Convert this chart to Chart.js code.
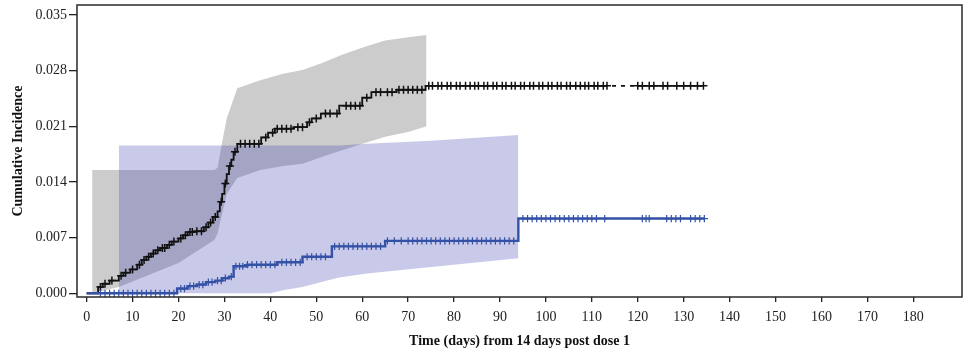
<!DOCTYPE html>
<html>
<head>
<meta charset="utf-8">
<script src="https://cdn.jsdelivr.net/npm/chart.js@4.4.1/dist/chart.umd.min.js"></script>
<style>
html,body{margin:0;padding:0;background:#fff;}
#wrap{width:963px;height:356px;}
</style>
</head>
<body>
<div id="wrap"><canvas id="c" width="963" height="356"></canvas></div>
<script>
// ---- data ----
const xTicks = [0,10,20,30,40,50,60,70,80,90,100,110,120,130,140,150,160,170,180];
const yTicks = [0,0.007,0.014,0.021,0.028,0.035];
const xTitle = 'Time (days) from 14 days post dose 1';
const yTitle = 'Cumulative Incidence';

// black group: Kaplan-Meier style cumulative incidence steps
const blackStepDays   = [0,2.5,3.5,5,7,8,9.5,11,12,13,14,15,16,17.5,18.5,20,21,22,23.5,25.5,26.5,27.5,28.5,29,29.5,30,30.5,31,31.5,32,32.8,38,39.5,41,45,48,49,51,55,60,62,67.5,73.8];
const blackStepValues = [0,0.0008,0.0012,0.0016,0.0022,0.0026,0.0030,0.0036,0.0042,0.0046,0.0050,0.0054,0.0057,0.0061,0.0065,0.0069,0.0073,0.0077,0.0078,0.0083,0.0089,0.0096,0.0103,0.0115,0.0125,0.0138,0.0150,0.0160,0.0168,0.0178,0.0188,0.0196,0.0202,0.0207,0.0209,0.0215,0.0220,0.0226,0.0236,0.0246,0.0253,0.0256,0.0261];
const blackCensorDays = [3,4,5.5,7.5,8.5,10,11.5,12.5,13.5,14.5,15.5,16.5,17,18,19,20.5,21.5,22.5,23,24,25,26,27,28,29.3,30.2,31.2,32.3,33.5,34.5,35.5,36.5,37.5,39,40.5,41.5,42.5,43.5,44.5,46,47,48.5,50,52,53,54.5,56.5,57.5,58.5,59.5,61,63,64,65.5,66.5,68,69,70,71,72,73,
  74.5,75.3,76.5,77.3,78.5,79.3,80.5,81.3,82.5,83.5,84.5,85.3,86.5,87.3,88.5,89.3,90.5,91.3,92.5,93.3,94.5,95.3,96.5,97.3,98.5,99.3,100.5,101.3,102.5,103.3,104.5,105.3,106.5,107.5,108.5,109.3,110.5,111.3,112.5,113.3,
  120,121,122.5,123.5,125.5,126.5,128.5,130,131.5,133,134.3];
const blackDashedFrom = 113.3, blackDashedTo = 120;

// blue group
const blueStepDays   = [0,19.7,22,24,26,28,29.5,31,32,35,41.5,47,53.4,65,94];
const blueStepValues = [0,0.0006,0.0009,0.0011,0.0014,0.0016,0.0019,0.0021,0.0034,0.0036,0.0039,0.0046,0.0059,0.0066,0.0094];
const blueCensorDays = [3,4,5,6,7,8,9,10,11,12,13,14,15,16,17,18,19,20.5,21.3,22.5,23.3,24.5,25.3,26.5,27.3,28.5,29.3,30.2,31.5,32.5,33.3,34,35,36,37,38,39,40,41,42.5,43.5,44.5,45.5,46.5,48,49,50,51,52,54,55,56,57,58,59,60,61,62,63,64,65.5,67,68.5,70,71,72,73,74,75,76,77,78,79,80,81,82,83,84,85,86,87,88,89,90,91,92,93,
  95,96,97,98,99,100,101,102,103,104,105,106,107,108,109,110,111,112.8,121,121.8,122.5,126.3,127.3,128.3,129.3,131.5,132.5,133.5,134.5];

// confidence bands
const grayBandDays  = [1.2,7,20,27.8,28.5,29.5,30.5,32.8,37.8,42.8,47,51,55.6,60.6,65,70,74];
const grayBandUpper = [0.0155,0.0155,0.0155,0.0155,0.0158,0.0190,0.0220,0.0258,0.0268,0.0276,0.0281,0.0289,0.0300,0.0310,0.0318,0.0322,0.0325];
const grayBandLower = [0,0.0008,0.0038,0.0067,0.0075,0.0100,0.0125,0.0145,0.0155,0.0160,0.0163,0.0171,0.0180,0.0189,0.0197,0.0203,0.0210];
const blueBandDays  = [7,40,43,47,53,55,61,75,94];
const blueBandUpper = [0.0186,0.0186,0.0186,0.0186,0.0186,0.0186,0.0188,0.0192,0.0199];
const blueBandLower = [0,0,0.0004,0.0008,0.0017,0.0020,0.0025,0.0033,0.0044];

// ---- helpers ----
function stepValue(days, values, t){ let v = values[0]; for(let i=0;i<days.length;i++){ if(days[i] <= t) v = values[i]; } return v; }
function pts(xs, ys){ return xs.map((x,i)=>({x:x, y:ys[i]})); }
function lineData(days, values, censor){
  const all = Array.from(new Set(days.concat(censor))).sort((a,b)=>a-b);
  return all.map(t=>({x:t, y:stepValue(days, values, t)}));
}
function censorData(days, values, censor){ return censor.map(t=>({x:t, y:stepValue(days, values, t)})); }
function zeroPad(s){ s.paddingLeft = 0; s.paddingRight = 0; s.paddingTop = 0; s.paddingBottom = 0; }

const BLUE = '#3352a6';
const serif = "'Liberation Serif', 'Times New Roman', serif";

const framePlugin = {
  id:'frame',
  afterDatasetsDraw(chart){
    const a = chart.chartArea, ctx = chart.ctx;
    ctx.save();
    ctx.strokeStyle = '#2a2a2a';
    ctx.lineWidth = 1.5;
    ctx.strokeRect(a.left, a.top, a.right - a.left, a.bottom - a.top);
    ctx.restore();
  }
};

new Chart(document.getElementById('c'), {
  type:'line',
  data:{ datasets:[
    {data:pts(blueBandDays, blueBandLower), borderWidth:0, pointRadius:0, fill:false},
    {data:pts(blueBandDays, blueBandUpper), borderWidth:0, pointRadius:0, fill:'-1', backgroundColor:'rgba(60,60,175,0.28)'},
    {data:pts(grayBandDays, grayBandLower), borderWidth:0, pointRadius:0, fill:false},
    {data:pts(grayBandDays, grayBandUpper), borderWidth:0, pointRadius:0, fill:'-1', backgroundColor:'rgb(204,204,204)'},
    {data:lineData(blueStepDays, blueStepValues, blueCensorDays), stepped:'before', borderColor:BLUE, borderWidth:2.4, pointRadius:0, fill:false},
    {data:censorData(blueStepDays, blueStepValues, blueCensorDays), showLine:false, pointStyle:'cross', pointRadius:3.6, pointBorderWidth:1.2, pointBorderColor:BLUE, borderColor:BLUE},
    {data:lineData(blackStepDays, blackStepValues, blackCensorDays), stepped:'before', borderColor:'#111', borderWidth:1.8, pointRadius:0, fill:false,
      segment:{ borderDash: c => (c.p0.parsed.x >= blackDashedFrom - 0.01 && c.p1.parsed.x <= blackDashedTo + 0.01) ? [4,5] : undefined,
                borderDashOffset: c => (c.p0.parsed.x >= blackDashedFrom - 0.01 && c.p1.parsed.x <= blackDashedTo + 0.01) ? -5 : undefined }},
    {data:censorData(blackStepDays, blackStepValues, blackCensorDays), showLine:false, pointStyle:'cross', pointRadius:4, pointBorderWidth:1.5, pointBorderColor:'#111', borderColor:'#111'}
  ]},
  options:{
    responsive:false, animation:false, devicePixelRatio:1,
    layout:{ autoPadding:false, padding:{ top:5, right:1, left:0, bottom:0 } },
    plugins:{ legend:{display:false}, tooltip:{enabled:false}, filler:{ drawTime:'beforeDatasetsDraw' } },
    scales:{
      x:{ type:'linear', min:-2.1, max:190.6,
        afterBuildTicks: s => { s.ticks = xTicks.map(v=>({value:v})); },
        afterFit: s => { s.height = 59; zeroPad(s); },
        grid:{ drawOnChartArea:false, drawTicks:true, tickLength:5, color:'#222', lineWidth:1.3 },
        border:{ display:false },
        ticks:{ font:{family:serif, size:14}, color:'#222', padding:7, maxRotation:0, autoSkip:false },
        title:{ display:true, text:xTitle, font:{family:serif, size:14, weight:'bold'}, color:'#111', padding:{top:0, bottom:6} }
      },
      y:{ type:'linear', min:-0.000465, max:0.03626,
        afterBuildTicks: s => { s.ticks = yTicks.map(v=>({value:v})); },
        afterFit: s => { s.width = 77; zeroPad(s); },
        grid:{ drawOnChartArea:false, drawTicks:true, tickLength:8, color:'#222', lineWidth:1.3 },
        border:{ display:false },
        ticks:{ font:{family:serif, size:14}, color:'#222', padding:2, callback: v => Number(v).toFixed(3) },
        title:{ display:true, text:yTitle, font:{family:serif, size:14, weight:'bold'}, color:'#111', padding:{top:10, bottom:0} }
      }
    }
  },
  plugins:[framePlugin]
});
</script>
</body>
</html>
